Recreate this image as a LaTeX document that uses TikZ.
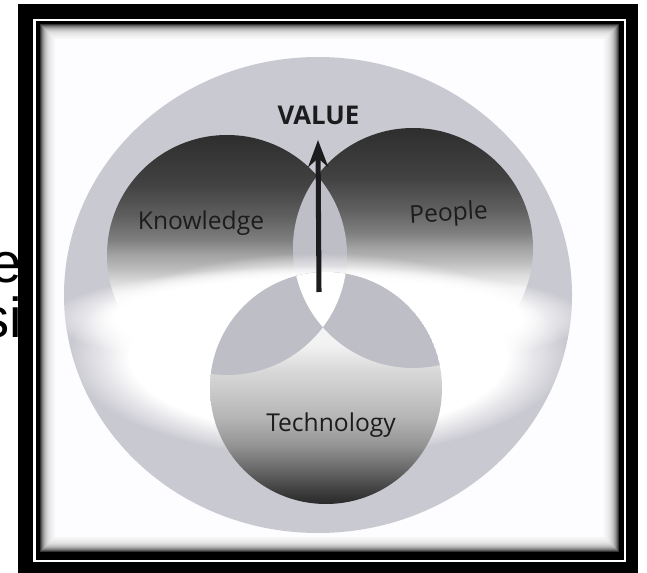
\documentclass[tikz,border=0pt]{standalone}
\usepackage{fontspec}
\setmainfont{Open Sans}
\newfontfamily\backfont{Liberation Sans}
\usepackage{tikz}
\usepackage{xcolor}
\usetikzlibrary{arrows.meta}
\usetikzlibrary{fadings}
\usetikzlibrary{calc}

\definecolor{ringgray}{RGB}{201,201,209}
\definecolor{lensgray}{RGB}{190,190,198}
\definecolor{panelwhite}{RGB}{253,253,255}
\definecolor{inkgray}{RGB}{28,28,30}

% dark top, light bottom (Knowledge, People)
\pgfdeclareverticalshading{kpshade}{100bp}{color(0bp)=(black!5); color(41.5bp)=(black!5);
  color(44.4bp)=(black!14); color(47.3bp)=(black!27); color(50bp)=(black!36);
  color(53.1bp)=(black!50); color(58.3bp)=(black!63); color(64.6bp)=(black!74);
  color(75bp)=(black!82); color(100bp)=(black!82)}
% light top, dark bottom (Technology)
\pgfdeclareverticalshading{techshade}{100bp}{color(0bp)=(black!84); color(25bp)=(black!84);
  color(28bp)=(black!75); color(32.3bp)=(black!60); color(37.7bp)=(black!42);
  color(43.1bp)=(black!30); color(48.5bp)=(black!22); color(53.9bp)=(black!15);
  color(59.3bp)=(black!5); color(75bp)=(black!3); color(100bp)=(black!3)}
% soft white band
\pgfdeclareradialshading{bandmask}{\pgfpointorigin}{color(0bp)=(white); color(19bp)=(white);
  color(25bp)=(black); color(50bp)=(black)}
\pgfdeclarefading{bandfade}{\pgfuseshading{bandmask}}

\tikzset{
  circlelabel/.style={font=\fontsize{21}{24}\selectfont, text=inkgray, inner sep=0pt},
  valuelabel/.style={font=\bfseries\fontsize{22}{24}\selectfont, text=inkgray, inner sep=0pt},
  backtext/.style={font=\backfont\fontsize{48}{48}\selectfont, inner sep=0pt},
  valuearrow/.style={line width=4.3pt, inkgray, -{Stealth[length=23pt,width=17pt]}},
  lightband/.style={white, path fading=bandfade}
}

\begin{document}
\begin{tikzpicture}[x=0.03cm, y=-0.03cm]
\useasboundingbox (0,0) rectangle (647,573);

%Text behind the frame
\node[backtext, anchor=base east] (lefte) at (22,283) {e};
\node[backtext, anchor=base east] (leftsi) at (22,338) {si};

%Frame
\fill[black] (18,4) rectangle (638,573);
\draw[white, line width=2.2pt] (34.5,20) rectangle (625,561);
\fill[panelwhite] (39,23) rectangle (620,553);
\foreach \i [evaluate=\i as \s using {100*0.8^\i}] in {0,1,...,15} {
  \draw[black!\s, line width=0.9pt] ({39.5+\i},{23.5+\i}) rectangle ({619.5-\i},{552.5-\i});
}

%Centres
\coordinate (oc) at (318,295);
\coordinate (kc) at (227,255);
\coordinate (pc) at (413,248);
\coordinate (tc) at (326,388);

%Outer ring
\fill[ringgray] (oc) ellipse (254 and 238);

%Knowledge and People
\shade[shading=kpshade] (kc) circle (120);
\shade[shading=kpshade] (pc) circle (120);
\begin{scope}
  \clip (kc) circle (120);
  \fill[lensgray] (pc) circle (120);
\end{scope}

%Light band
\begin{scope}
  \clip (oc) ellipse (254 and 238);
  \fill[lightband] (318,355) ellipse (248 and 102);
  \fill[lightband] (318,318) ellipse (268 and 52);
\end{scope}

%Technology
\begin{scope}
  \clip (tc) circle (116);
  \shade[shading=techshade] (tc) circle (116);
  \begin{scope}
    \clip (kc) circle (120);
    \fill[lensgray] (tc) circle (116);
  \end{scope}
  \begin{scope}
    \clip (pc) circle (120);
    \fill[lensgray] (tc) circle (116);
  \end{scope}
  \begin{scope}
    \clip (kc) circle (120);
    \clip (pc) circle (120);
    \fill[white] (tc) circle (116);
  \end{scope}
\end{scope}

%Labels
\node[circlelabel, anchor=base] (knowledge) at (201,230) {Knowledge};
\node[circlelabel, anchor=base, rotate=3] (people) at (449,221) {People};
\node[circlelabel, anchor=base] (technology) at (331,431) {Technology};
\node[valuelabel, anchor=base] (value) at (318.5,125) {VALUE};

%Arrow
\coordinate (base) at (319,292);
\coordinate (tip) at (318,140);
\draw[valuearrow] (base) -- (tip);
\end{tikzpicture}
\end{document}
